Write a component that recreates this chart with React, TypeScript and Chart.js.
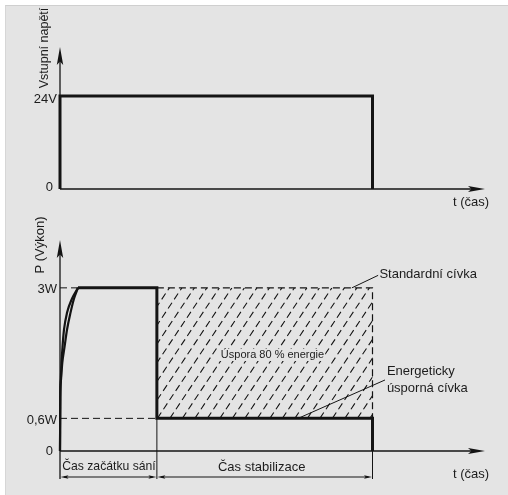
import React, { useEffect, useRef } from "react";
import { Chart, registerables } from "chart.js";

Chart.register(...registerables);

const FONT_FAMILY = "'Liberation Sans', Arial, Helvetica, sans-serif";
const INK = "#141414";
const TEXT = "#1c1c1c";
const BG = "#e4e4e4";

// ---------- Top chart: input voltage ----------
const voltageTime = [0, 0, 100, 100];
const voltageLevel = [0, 24, 24, 0];
const voltageTickValues = [0, 24];
const voltageTickLabels = ["0", "24V"];
const voltageAxisTitle = "Vstupní napětí";

// ---------- Bottom chart: power ----------
const riseOuterTime = [0, 0.1, 0.32, 0.73, 1.44, 2.24, 3.35, 4.47, 5.75];
const riseInnerTime = [0, 0.1, 0.26, 0.48, 0.8, 1.28, 2.24, 3.83, 5.75];
const risePower = [0, 0.99, 1.31, 1.62, 1.91, 2.23, 2.54, 2.8, 3.0];
const savingTime = [5.75, 31, 31, 100, 100];
const savingPower = [3, 3, 0.6, 0.6, 0];
const standardTime = [31, 100, 100];
const standardPower = [3, 3, 0.6];
const powerTickValues = [0, 0.6, 3];
const powerTickLabels = ["0", "0,6W", "3W"];
const powerAxisTitle = "P (Výkon)";
const phaseBounds = [0, 31, 100];
const phaseLabels = ["Čas začátku sání", "Čas stabilizace"];
const timeAxisTitle = "t (čas)";
const savingsLabel = "Úspora 80 % energie";
const standardLabel = "Standardní cívka";
const savingCoilLabel = ["Energeticky", "úsporná cívka"];

const X_MAX = 136;
const V_MAX = 36.6;
const P_MAX = 3.88;

const pts = (xs: number[], ys: number[]) => xs.map((x, i) => ({ x, y: ys[i] }));

function arrowHead(ctx: CanvasRenderingContext2D, tx: number, ty: number, ux: number, uy: number, len: number, half: number) {
  const bx = tx - ux * len;
  const by = ty - uy * len;
  const px = -uy;
  const py = ux;
  ctx.beginPath();
  ctx.moveTo(tx, ty);
  ctx.lineTo(bx + px * half, by + py * half);
  ctx.lineTo(tx - ux * len * 0.8, ty - uy * len * 0.8);
  ctx.lineTo(bx - px * half, by - py * half);
  ctx.closePath();
  ctx.fill();
}

function arrowLine(ctx: CanvasRenderingContext2D, x1: number, y1: number, x2: number, y2: number, len: number, half: number) {
  const d = Math.hypot(x2 - x1, y2 - y1);
  const ux = (x2 - x1) / d;
  const uy = (y2 - y1) / d;
  ctx.beginPath();
  ctx.moveTo(x1, y1);
  ctx.lineTo(x2 - ux * len * 0.5, y2 - uy * len * 0.5);
  ctx.stroke();
  arrowHead(ctx, x2, y2, ux, uy, len, half);
}

function line(ctx: CanvasRenderingContext2D, x1: number, y1: number, x2: number, y2: number) {
  ctx.beginPath();
  ctx.moveTo(x1, y1);
  ctx.lineTo(x2, y2);
  ctx.stroke();
}

function drawTicks(ctx: CanvasRenderingContext2D, x0: number, yScale: any, values: number[], labels: string[], dyTop: number) {
  ctx.font = `13px ${FONT_FAMILY}`;
  ctx.fillStyle = TEXT;
  ctx.textAlign = "right";
  ctx.textBaseline = "middle";
  values.forEach((v, i) => {
    const lbl = labels[i];
    const py = yScale.getPixelForValue(v);
    const rx = lbl === "0" ? x0 - 7 : x0 - 3;
    const dy = v === 0 ? (dyTop > 3 ? -1.5 : 0.5) : dyTop;
    ctx.fillText(lbl, rx, py + dy);
  });
}

function drawVerticalTitle(ctx: CanvasRenderingContext2D, text: string, cx: number, cy: number, size: number) {
  ctx.save();
  ctx.translate(cx, cy);
  ctx.rotate(-Math.PI / 2);
  ctx.font = `${size}px ${FONT_FAMILY}`;
  ctx.fillStyle = TEXT;
  ctx.textAlign = "center";
  ctx.textBaseline = "middle";
  ctx.fillText(text, 0, 0);
  ctx.restore();
}

const topDecor = {
  id: "topDecor",
  beforeDatasetsDraw(chart: any) {
    const { ctx, chartArea, scales } = chart;
    const x = scales.x;
    const y = scales.y;
    const x0 = x.getPixelForValue(0);
    const y0 = y.getPixelForValue(0);
    ctx.save();
    ctx.strokeStyle = INK;
    ctx.fillStyle = INK;
    ctx.lineWidth = 1.3;
    arrowLine(ctx, x0, y0, x0, chartArea.top, 18, 3.2);
    arrowLine(ctx, x0, y0, chartArea.right, y0, 17, 3);
    ctx.restore();
  },
  afterDatasetsDraw(chart: any) {
    const { ctx, chartArea, scales } = chart;
    const x = scales.x;
    const y = scales.y;
    const x0 = x.getPixelForValue(0);
    const y0 = y.getPixelForValue(0);
    ctx.save();
    drawTicks(ctx, x0, y, voltageTickValues, voltageTickLabels, 3.5);
    ctx.font = `13px ${FONT_FAMILY}`;
    ctx.textAlign = "left";
    ctx.textBaseline = "middle";
    ctx.fillStyle = TEXT;
    ctx.fillText(timeAxisTitle, chartArea.right - 32, y0 + 13);
    drawVerticalTitle(ctx, voltageAxisTitle, x0 - 15, chartArea.top + 1, 12.5);
    ctx.restore();
  },
};

const bottomDecor = {
  id: "bottomDecor",
  beforeDatasetsDraw(chart: any) {
    const { ctx, chartArea, scales } = chart;
    const x = scales.x;
    const y = scales.y;
    const x0 = x.getPixelForValue(0);
    const y0 = y.getPixelForValue(0);

    // hatched savings area between standard and saving coil
    const hx1 = x.getPixelForValue(phaseBounds[1]);
    const hx2 = x.getPixelForValue(phaseBounds[2]);
    const hy1 = y.getPixelForValue(standardPower[0]);
    const hy2 = y.getPixelForValue(savingPower[3]);
    ctx.save();
    ctx.beginPath();
    ctx.rect(hx1, hy1, hx2 - hx1, hy2 - hy1);
    ctx.clip();
    ctx.strokeStyle = INK;
    ctx.lineWidth = 1.1;
    ctx.setLineDash([7, 4]);
    const h = hy2 - hy1;
    const slope = 1.5;
    const run = h / slope;
    for (let c = hx1 - run; c < hx2 + 2; c += 12.5) {
      line(ctx, c, hy2, c + run, hy1);
    }
    ctx.restore();

    ctx.save();
    ctx.strokeStyle = INK;
    ctx.fillStyle = INK;
    ctx.lineWidth = 1.3;
    const dimY = y0 + 26;
    const extEnd = y0 + 28;
    // axes
    line(ctx, x0, extEnd, x0, y0);
    arrowLine(ctx, x0, y0, x0, chartArea.top, 18, 3.2);
    arrowLine(ctx, x0, y0, chartArea.right, y0, 17, 3);
    // extension lines
    ctx.lineWidth = 1;
    line(ctx, x.getPixelForValue(phaseBounds[1]), y.getPixelForValue(savingPower[3]), x.getPixelForValue(phaseBounds[1]), extEnd);
    line(ctx, x.getPixelForValue(phaseBounds[2]), y0, x.getPixelForValue(phaseBounds[2]), extEnd);
    // dimension lines
    ctx.lineWidth = 1.1;
    for (let i = 0; i < phaseBounds.length - 1; i++) {
      const a = x.getPixelForValue(phaseBounds[i]);
      const b = x.getPixelForValue(phaseBounds[i + 1]);
      line(ctx, a + 4, dimY, b - 4, dimY);
      arrowHead(ctx, a + 0.5, dimY, -1, 0, 8, 1.8);
      arrowHead(ctx, b - 0.5, dimY, 1, 0, 8, 1.8);
    }
    ctx.restore();
  },
  afterDatasetsDraw(chart: any) {
    const { ctx, chartArea, scales } = chart;
    const x = scales.x;
    const y = scales.y;
    const x0 = x.getPixelForValue(0);
    const y0 = y.getPixelForValue(0);
    ctx.save();
    drawTicks(ctx, x0, y, powerTickValues, powerTickLabels, 2);

    ctx.fillStyle = TEXT;
    ctx.textBaseline = "middle";
    ctx.textAlign = "left";
    ctx.font = `13px ${FONT_FAMILY}`;
    ctx.fillText(timeAxisTitle, chartArea.right - 32, y0 + 23);

    // phase labels
    ctx.textAlign = "center";
    phaseLabels.forEach((lbl, i) => {
      const a = x.getPixelForValue(phaseBounds[i]);
      const b = x.getPixelForValue(phaseBounds[i + 1]);
      ctx.font = `${i === 0 ? 12.2 : 13}px ${FONT_FAMILY}`;
      ctx.fillText(lbl, (a + b) / 2 + (i === 0 ? 0.5 : -3), y0 + 16);
    });

    drawVerticalTitle(ctx, powerAxisTitle, x0 - 19.5, chartArea.top + 5, 13);

    // savings label inside hatch
    ctx.font = `11px ${FONT_FAMILY}`;
    const sx = x.getPixelForValue(68);
    const sy = y.getPixelForValue(1.765);
    const w = ctx.measureText(savingsLabel).width;
    ctx.fillStyle = BG;
    ctx.fillRect(sx - w / 2 - 1, sy - 6, w + 2, 12);
    ctx.fillStyle = TEXT;
    ctx.textAlign = "center";
    ctx.fillText(savingsLabel, sx, sy);

    // leaders
    ctx.strokeStyle = INK;
    ctx.lineWidth = 1;
    line(ctx, x.getPixelForValue(93.4), y.getPixelForValue(3), x.getPixelForValue(101.8), y.getPixelForValue(3.23));
    line(ctx, x.getPixelForValue(76.2), y.getPixelForValue(0.6), x.getPixelForValue(104), y.getPixelForValue(1.306));

    ctx.font = `13px ${FONT_FAMILY}`;
    ctx.textAlign = "left";
    ctx.fillText(standardLabel, x.getPixelForValue(102.2), y.getPixelForValue(3.24));
    ctx.fillText(savingCoilLabel[0], x.getPixelForValue(104.6), y.getPixelForValue(1.455));
    ctx.fillText(savingCoilLabel[1], x.getPixelForValue(104.6), y.getPixelForValue(1.15));
    ctx.restore();
  },
};

function baseOptions(padding: any, yMax: number) {
  return {
    responsive: false,
    animation: false as const,
    events: [],
    layout: { padding },
    plugins: {
      legend: { display: false },
      tooltip: { enabled: false },
      title: { display: false },
    },
    scales: {
      x: { type: "linear" as const, min: 0, max: X_MAX, display: false },
      y: { type: "linear" as const, min: 0, max: yMax, display: false },
    },
    elements: {
      point: { radius: 0 },
      line: { borderCapStyle: "butt" as const, borderJoinStyle: "miter" as const },
    },
  };
}

export default function App() {
  const topRef = useRef<HTMLCanvasElement>(null);
  const botRef = useRef<HTMLCanvasElement>(null);

  useEffect(() => {
    const top = new Chart(topRef.current as HTMLCanvasElement, {
      type: "line",
      data: {
        datasets: [
          {
            data: pts(voltageTime, voltageLevel),
            borderColor: INK,
            borderWidth: 3,
            tension: 0,
            fill: false,
            clip: false,
          } as any,
        ],
      },
      options: baseOptions({ left: 60, right: 23, top: 47, bottom: 26 }, V_MAX) as any,
      plugins: [topDecor],
    });

    const bot = new Chart(botRef.current as HTMLCanvasElement, {
      type: "line",
      data: {
        datasets: [
          {
            data: pts(savingTime, savingPower),
            borderColor: INK,
            borderWidth: 3,
            tension: 0,
            clip: false,
          },
          {
            data: pts(riseOuterTime, risePower),
            borderColor: INK,
            borderWidth: 2.2,
            cubicInterpolationMode: "monotone",
            clip: false,
          },
          {
            data: pts(riseInnerTime, risePower),
            borderColor: INK,
            borderWidth: 2.2,
            cubicInterpolationMode: "monotone",
            clip: false,
          },
          {
            data: pts(standardTime, standardPower),
            borderColor: INK,
            borderWidth: 1.2,
            borderDash: [7, 4],
            tension: 0,
            clip: false,
          },
          {
            data: [
              { x: 0, y: powerTickValues[2] },
              { x: riseOuterTime[riseOuterTime.length - 1], y: powerTickValues[2] },
            ],
            borderColor: INK,
            borderWidth: 1,
            borderDash: [7, 4],
            clip: false,
          },
          {
            data: [
              { x: 0, y: powerTickValues[1] },
              { x: phaseBounds[1], y: powerTickValues[1] },
            ],
            borderColor: INK,
            borderWidth: 1,
            borderDash: [7, 4],
            clip: false,
          },
        ] as any,
      },
      options: baseOptions({ left: 60, right: 23, top: 30, bottom: 44 }, P_MAX) as any,
      plugins: [bottomDecor],
    });

    return () => {
      top.destroy();
      bot.destroy();
    };
  }, []);

  return (
    <div
      style={{
        position: "fixed",
        left: 0,
        top: 0,
        width: 508,
        height: 495,
        background: "#ffffff",
        overflow: "hidden",
      }}
    >
      <div
        style={{
          position: "absolute",
          left: 5,
          top: 5,
          right: 0,
          bottom: 0,
          background: BG,
          borderTop: "1px solid #cfcfcf",
          borderLeft: "1px solid #d6d6d6",
        }}
      />
      <canvas ref={topRef} width={508} height={215} style={{ position: "absolute", left: 0, top: 0 }} />
      <canvas ref={botRef} width={508} height={285} style={{ position: "absolute", left: 0, top: 210 }} />
    </div>
  );
}
